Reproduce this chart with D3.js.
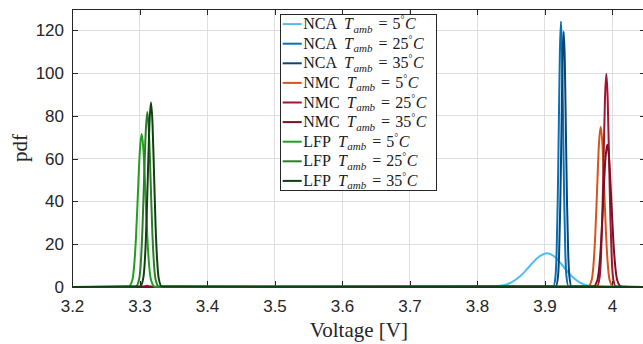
<!DOCTYPE html>
<html><head><meta charset="utf-8">
<script src="https://cdn.jsdelivr.net/npm/d3@7"></script>
<style>html,body{margin:0;padding:0;background:#fff;overflow:hidden}</style>
</head><body><svg id="c" width="643" height="344"></svg>
<script>
// ---- data ----
const xTicks = [3.2, 3.3, 3.4, 3.5, 3.6, 3.7, 3.8, 3.9, 4.0];
const xTickLabels = ["3.2", "3.3", "3.4", "3.5", "3.6", "3.7", "3.8", "3.9", "4"];
const yTicks = [0, 20, 40, 60, 80, 100, 120];
const yTickLabels = ["0", "20", "40", "60", "80", "100", "120"];
const xDomain = [3.2, 4.05];
const yDomain = [0, 130];

const chemistries = ["NCA", "NCA", "NCA", "NMC", "NMC", "NMC", "LFP", "LFP", "LFP"];
const temperatures = ["5", "25", "35", "5", "25", "35", "5", "25", "35"];

// [voltage, pdf] points for each curve
const nca5 = [[3.2,0],[3.8112,0.04],[3.8377,0.69],[3.851,2.14],[3.8643,5.13],[3.8775,9.58],[3.8908,13.94],[3.904,15.8],[3.916,13.94],[3.928,9.58],[3.940,5.13],[3.952,2.14],[3.964,0.69],[3.988,0.04],[4.05,0]];
const nca25 = [[3.2,0],[3.9132,0.27],[3.9164,5.45],[3.9180,16.8],[3.9196,40.3],[3.9212,75.3],[3.9228,109.6],[3.9244,124.2],[3.9260,109.6],[3.9276,75.3],[3.9292,40.3],[3.9308,16.8],[3.9324,5.45],[3.9356,0.27],[4.05,0]];
const nca35 = [[3.2,0],[3.9167,0.26],[3.9201,5.25],[3.9217,16.2],[3.9234,38.8],[3.9251,72.5],[3.9267,105.5],[3.9284,119.5],[3.9301,105.5],[3.9317,72.5],[3.9334,38.8],[3.9351,16.2],[3.9368,5.25],[3.9401,0.26],[4.05,0]];
const nmc5 = [[3.2,0],[3.9645,0.16],[3.9699,3.28],[3.9725,10.1],[3.9752,24.3],[3.9779,45.4],[3.9805,66.0],[3.9832,74.8],[3.9859,66.0],[3.9885,45.4],[3.9912,24.3],[3.9939,10.1],[3.9965,3.28],[4.0019,0.16],[4.05,0]];
const nmc25 = [[3.2,0],[3.302,0],[3.307,0.3],[3.311,0.6],[3.315,0.3],[3.320,0],[3.9776,0.22],[3.9816,4.38],[3.9836,13.5],[3.9856,32.4],[3.9876,60.5],[3.9896,88.0],[3.9916,99.7],[3.9936,88.0],[3.9956,60.5],[3.9976,32.4],[3.9996,13.5],[4.0016,4.38],[4.0056,0.22],[4.05,0]];
const nmc35 = [[3.2,0],[3.972,0.15],[3.978,2.92],[3.981,9.0],[3.984,21.6],[3.987,40.3],[3.990,58.7],[3.993,66.5],[3.996,58.7],[3.999,40.3],[4.002,21.6],[4.005,9.0],[4.008,2.92],[4.014,0.15],[4.05,0]];
const lfp5 = [[3.2,0],[3.2837,0.16],[3.2893,3.14],[3.2920,9.67],[3.2948,23.2],[3.2976,43.4],[3.3004,63.1],[3.3032,71.5],[3.3060,63.1],[3.3088,43.4],[3.3116,23.2],[3.3144,9.67],[3.3172,3.14],[3.3227,0.16],[4.05,0]];
const lfp25 = [[3.2,0],[3.2945,0.18],[3.2994,3.59],[3.3019,11.07],[3.3043,26.6],[3.3067,49.6],[3.3092,72.2],[3.3116,81.8],[3.3140,72.2],[3.3165,49.6],[3.3189,26.6],[3.3214,11.07],[3.3238,3.59],[3.3287,0.18],[4.05,0]];
const lfp35 = [[3.2,0],[3.3008,0.19],[3.3054,3.79],[3.3078,11.68],[3.3101,28.0],[3.3124,52.3],[3.3147,76.2],[3.3170,86.3],[3.3193,76.2],[3.3216,52.3],[3.3239,28.0],[3.3263,11.68],[3.3286,3.79],[3.3332,0.19],[4.05,0]];

const seriesData = [nca5, nca25, nca35, nmc5, nmc25, nmc35, lfp5, lfp25, lfp35];
const seriesColors = ["#4DBEEE", "#0072BD", "#0A4674", "#D95319", "#A2142F", "#7A1022", "#1FA01F", "#2A7F2A", "#104010"];

// ---- layout ----
const svg = d3.select("#c");
const L = 72, R = 645.75, T = 9, B = 287;
const x = d3.scaleLinear().domain(xDomain).range([L, R]);
const y = d3.scaleLinear().domain(yDomain).range([B, T]);
const axisCol = "#262626";
const tickFont = "'Liberation Sans', Arial, Helvetica, sans-serif";
const serif = "'Liberation Serif', 'Times New Roman', serif";

// grid
const g = svg.append("g");
g.selectAll(".vg").data(xTicks).join("line")
  .attr("x1", d => x(d)).attr("x2", d => x(d)).attr("y1", T).attr("y2", B)
  .attr("stroke", "#dfdfdf").attr("stroke-width", 1).attr("shape-rendering", "crispEdges");
g.selectAll(".hg").data(yTicks).join("line")
  .attr("x1", L).attr("x2", R).attr("y1", d => y(d)).attr("y2", d => y(d))
  .attr("stroke", "#dfdfdf").attr("stroke-width", 1).attr("shape-rendering", "crispEdges");

// axes
function styleAxis(sel) {
  sel.select(".domain").remove();
  sel.selectAll(".tick line").attr("stroke", axisCol).attr("shape-rendering", "crispEdges");
  sel.selectAll(".tick text").attr("fill", axisCol).attr("font-family", tickFont).attr("font-size", 17);
}
const fx = d => xTickLabels[xTicks.indexOf(d)];
const fy = d => yTickLabels[yTicks.indexOf(d)];
svg.append("g").attr("transform", `translate(0,${B})`)
  .call(d3.axisBottom(x).tickValues(xTicks).tickFormat(fx).tickSizeInner(-6).tickSizeOuter(0).tickPadding(13))
  .call(styleAxis);
svg.append("g").attr("transform", `translate(0,${T})`)
  .call(d3.axisTop(x).tickValues(xTicks).tickFormat("").tickSizeInner(-6).tickSizeOuter(0))
  .call(styleAxis);
svg.append("g").attr("transform", `translate(${L},0)`)
  .call(d3.axisLeft(y).tickValues(yTicks).tickFormat(fy).tickSizeInner(-6).tickSizeOuter(0).tickPadding(8))
  .call(styleAxis);
svg.append("g").attr("transform", `translate(${R},0)`)
  .call(d3.axisRight(y).tickValues(yTicks).tickFormat("").tickSizeInner(-6).tickSizeOuter(0))
  .call(styleAxis);
svg.append("rect").attr("x", L).attr("y", T).attr("width", R - L).attr("height", B - T)
  .attr("fill", "none").attr("stroke", axisCol).attr("stroke-width", 1).attr("shape-rendering", "crispEdges");

// curves
svg.append("clipPath").attr("id", "clip").append("rect")
  .attr("x", L - 1).attr("y", T - 2).attr("width", R - L + 20).attr("height", B - T + 5);
const line = d3.line().x(d => x(d[0])).y(d => y(d[1])).curve(d3.curveMonotoneX);
svg.append("g").attr("clip-path", "url(#clip)")
  .selectAll("path").data(seriesData).join("path")
  .attr("d", line).attr("fill", "none")
  .attr("stroke", (d, i) => seriesColors[i]).attr("stroke-width", 2).attr("stroke-linejoin", "round");

// axis labels
svg.append("text").attr("x", (L + R) / 2).attr("y", 336.5).attr("text-anchor", "middle")
  .attr("font-family", serif).attr("font-size", 21).attr("fill", axisCol).text("Voltage [V]");
svg.append("text").attr("transform", "translate(27,148) rotate(-90)").attr("text-anchor", "middle")
  .attr("font-family", serif).attr("font-size", 21).attr("fill", axisCol).text("pdf");

// legend
const lg = svg.append("g");
lg.append("rect").attr("x", 280.5).attr("y", 14.5).attr("width", 156).attr("height", 176)
  .attr("fill", "#fff").attr("stroke", axisCol).attr("stroke-width", 1);
chemistries.forEach((c, i) => {
  const cy = 24.1 + 19.6 * i;
  lg.append("line").attr("x1", 282.7).attr("x2", 301.7).attr("y1", cy).attr("y2", cy)
    .attr("stroke", seriesColors[i]).attr("stroke-width", 2);
  const t = lg.append("text").attr("x", 303.3).attr("y", cy + 5)
    .attr("font-family", serif).attr("font-size", 16).attr("fill", "#1a1a1a");
  t.append("tspan").text(c);
  t.append("tspan").attr("dx", 7).attr("font-style", "italic").text("T");
  t.append("tspan").attr("dy", 3.5).attr("dx", 0.5).attr("font-style", "italic").attr("font-size", 11).text("amb");
  t.append("tspan").attr("dy", -3.5).attr("dx", 6).text("=");
  t.append("tspan").attr("dx", 5).text(temperatures[i]);
  t.append("tspan").attr("dy", -6).attr("font-size", 10).text("°");
  t.append("tspan").attr("dy", 6).attr("dx", 0.5).attr("font-style", "italic").text("C");
});
</script>
</body></html>
